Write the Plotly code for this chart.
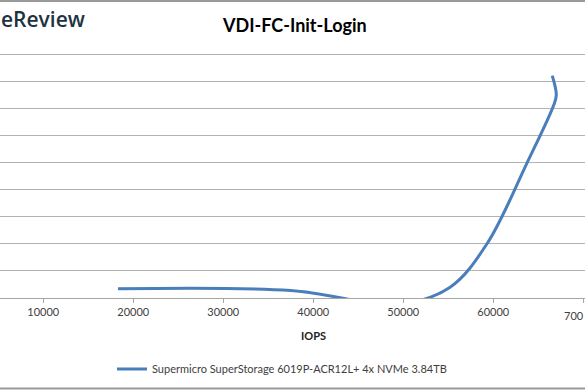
import plotly.graph_objects as go

# ---- data ----
iops = [18300, 37500, 49500, 55200, 59300, 63700, 66750, 67000, 66550]
latency = [0.68, 0.55, -0.45, 0.8, 4.0, 9.9, 14.3, 15.0, 16.4]
series_name = "Supermicro SuperStorage 6019P-ACR12L+ 4x NVMe 3.84TB"
x_ticks = [10000, 20000, 30000, 40000, 50000, 60000, 70000]
x_tick_labels = ["10000", "20000", "30000", "40000", "50000", "60000", "70000"]
y_grid = [2, 4, 6, 8, 10, 12, 14, 16, 18]
title_text = "VDI-FC-Init-Login"
x_title = "IOPS"
logo_text = "eReview"
edge_label = "700"   # the last tick label is cut by the right edge of the picture

W, H = 585, 390
T, B = 50, 92
PH = H - T - B
AXIS_PX = H - B          # pixel row of the x axis
UNIT_PX = (AXIS_PX - 54) / 18.0
Y_TOP = (AXIS_PX - T) / UNIT_PX

def py(px):  # pixel y -> paper y
    return (H - B - px) / PH

def pxx(px):
    return px / W

fig = go.Figure()
fig.add_trace(go.Scatter(
    x=iops, y=latency, mode="lines", name=series_name,
    line=dict(color="#4a7ebb", width=3, shape="spline", smoothing=1),
))

tick_font = dict(family="Lato", size=11, color="#404040")

fig.update_layout(
    width=W, height=H,
    margin=dict(l=0, r=0, t=T, b=B, pad=0),
    paper_bgcolor="white", plot_bgcolor="white",
    showlegend=True,
    legend=dict(x=pxx(112), y=py(369), xanchor="left", yanchor="middle",
                orientation="h", font=dict(family="Lato", size=11, color="#404040"),
                bgcolor="rgba(0,0,0,0)"),
    xaxis=dict(range=[5189, 70189], tickvals=x_ticks, ticktext=x_tick_labels,
               ticks="outside", ticklen=4,
               tickcolor="#a6a6a6", showline=True, linecolor="#a6a6a6", linewidth=1,
               showgrid=False, zeroline=False, tickfont=tick_font),
    yaxis=dict(range=[0, Y_TOP], tickvals=y_grid,
               showticklabels=False, showgrid=True,
               gridcolor="#b3b3b3", gridwidth=1, zeroline=False, showline=False),
    annotations=[
        dict(text="<b>" + title_text + "</b>", x=pxx(294), y=py(25), xref="paper", yref="paper",
             showarrow=False, xanchor="center", yanchor="middle",
             font=dict(family="Lato", size=18, color="#000000")),
        dict(text="<b>" + x_title + "</b>", x=pxx(313), y=py(335), xref="paper", yref="paper",
             showarrow=False, xanchor="center", yanchor="middle",
             font=dict(family="Lato", size=11, color="#222222")),
        dict(text=logo_text, x=pxx(-1), y=py(19), xref="paper", yref="paper",
             showarrow=False, xanchor="left", yanchor="middle",
             font=dict(family="Open Sans", size=21, color="#1e3340", weight=600)),
        dict(text=edge_label, x=1, y=py(315), xref="paper", yref="paper",
             showarrow=False, xanchor="right", yanchor="middle", borderpad=0,
             font=tick_font),
    ],
    shapes=[
        dict(type="line", xref="paper", yref="paper", x0=0, x1=1, y0=py(1), y1=py(1),
             layer="above", line=dict(color="#999999", width=2)),
        dict(type="line", xref="paper", yref="paper", x0=0, x1=1, y0=py(388.5), y1=py(388.5),
             layer="above", line=dict(color="#999999", width=2)),
    ],
)

fig.write_html("out.html", config={"displayModeBar": False},
               post_script="document.body.style.margin='0';document.body.style.overflow='hidden';")
